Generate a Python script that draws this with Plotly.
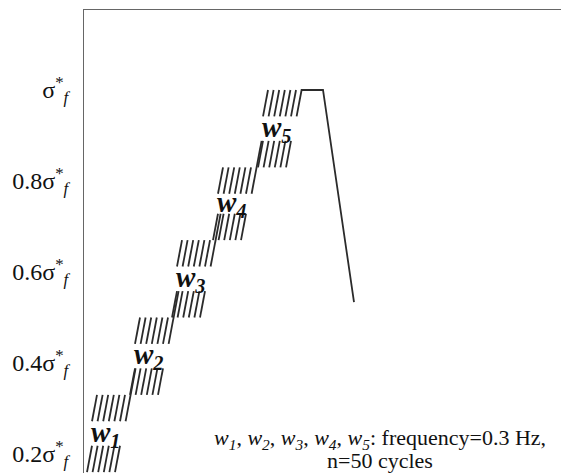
import plotly.graph_objects as go

# ---- data (stress as fraction of sigma*_f, time in arbitrary schematic units) ----
levels = [0.16, 0.33, 0.50, 0.67, 0.83, 1.00]      # block boundaries
block_names = ["1", "2", "3", "4", "5"]
block_start = [3, 46, 88, 129, 174]                 # time of first drawn cycle of each block
cycles_drawn = 6                                    # schematic cycles drawn per block
hold_end_time = 239                                 # end of hold at sigma*_f
unload_end = (270, 0.534)                           # end of unloading line

tick_vals = [0.2, 0.4, 0.6, 0.8, 1.0]
tick_text = ["0.2σ<sup>*</sup><sub><i>f</i></sub>", "0.4σ<sup>*</sup><sub><i>f</i></sub>",
             "0.6σ<sup>*</sup><sub><i>f</i></sub>", "0.8σ<sup>*</sup><sub><i>f</i></sub>",
             "σ<sup>*</sup><sub><i>f</i></sub>"]

note_line1 = ("<i>w</i><sub><i>1</i></sub>, <i>w</i><sub><i>2</i></sub>, <i>w</i><sub><i>3</i></sub>, "
              "<i>w</i><sub><i>4</i></sub>, <i>w</i><sub><i>5</i></sub>: frequency=0.3 Hz,")
note_line2 = "n=50 cycles"

# ---- schematic geometry (style) ----
step = 5.6     # spacing of drawn cycles
lean = 5.0     # horizontal lean of a stroke across one visible band
band = 0.058   # height of visible band next to each level

xs, ys = [], []
def seg(x0, y0, x1, y1):
    xs.extend([x0, x1, None]); ys.extend([y0, y1, None])

for i, s in enumerate(block_start):
    lo, hi = levels[i], levels[i + 1]
    for k in range(cycles_drawn):
        b = s + k * step
        seg(b, lo, b + lean, lo + band)                 # valleys near lower level
        seg(b + lean, hi - band, b + 2 * lean, hi)      # peaks near upper level
    r = s + cycles_drawn * step + lean
    if i < len(block_start) - 1:
        seg(r, hi - band, r + 2 * lean, hi + band)      # ramp to the next block
    else:
        xs.extend([r, r + lean, hold_end_time, unload_end[0], None])
        ys.extend([hi - band, hi, hi, unload_end[1], None])

fig = go.Figure()
fig.add_trace(go.Scatter(x=xs, y=ys, mode="lines",
                         line=dict(color="#2b2b2b", width=1.8),
                         hoverinfo="skip", showlegend=False))

for i, name in enumerate(block_names):
    lo, hi = levels[i], levels[i + 1]
    fig.add_annotation(x=block_start[i] + 18, y=(lo + hi) / 2,
                       text=f"<b><i>w</i></b><sub><b><i>{name}</i></b></sub>",
                       showarrow=False, font=dict(family="Liberation Serif", size=29, color="#111"),
                       xanchor="center", yanchor="middle")

note_font = dict(family="Liberation Serif", size=22, color="#111")
fig.add_annotation(x=296, y=0.233, text=note_line1, showarrow=False,
                   font=note_font, xanchor="center", yanchor="middle")
fig.add_annotation(x=296, y=0.186, text=note_line2, showarrow=False,
                   font=note_font, xanchor="center", yanchor="middle")

# page body has an 8px margin, so the figure is 8px smaller than the window
fig.update_layout(
    width=561, height=465,
    margin=dict(l=76, r=0, t=2, b=0),
    paper_bgcolor="white", plot_bgcolor="white",
    xaxis=dict(range=[0, 485], showgrid=False, zeroline=False, showticklabels=False,
               ticks="", showline=True, side="top", linecolor="#666", linewidth=1),
    yaxis=dict(range=[0.1582, 1.1758], showgrid=False, zeroline=False,
               tickvals=tick_vals, ticktext=tick_text, ticks="",
               ticklabelstandoff=10, automargin=False, ticklabeloverflow="allow",
               tickfont=dict(family="Liberation Serif", size=24, color="#111"),
               showline=True, linecolor="#666", linewidth=1),
)

fig.write_html("out.html")
